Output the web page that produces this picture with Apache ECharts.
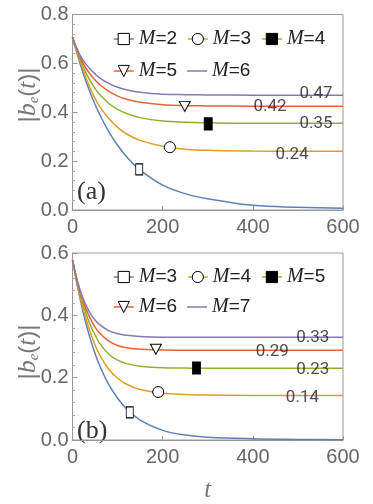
<!DOCTYPE html>
<html>
<head>
<meta charset="utf-8">
<script src="https://cdn.jsdelivr.net/npm/echarts@6/dist/echarts.min.js"></script>
<style>
  html, body { margin: 0; padding: 0; background: #fff; }
  #chart { width: 373px; height: 504px; }
</style>
</head>
<body>
<div id="chart"></div>
<script>
// time samples shared by every curve
var tVals = [0, 10, 20, 30, 40, 50, 60, 80, 100, 120, 150, 200, 250, 300, 400, 500, 600]

// panel (a): M = 2..6
var aM2 = [0.707, 0.641, 0.580, 0.526, 0.477, 0.432, 0.392, 0.322, 0.265, 0.218, 0.163, 0.102, 0.067, 0.046, 0.019, 0.011, 0.007]
var aM3 = [0.707, 0.646, 0.591, 0.541, 0.495, 0.456, 0.424, 0.375, 0.338, 0.311, 0.285, 0.261, 0.249, 0.244, 0.241, 0.240, 0.240]
var aM4 = [0.707, 0.651, 0.602, 0.561, 0.526, 0.497, 0.473, 0.437, 0.412, 0.395, 0.378, 0.364, 0.359, 0.357, 0.355, 0.355, 0.355]
var aM5 = [0.707, 0.656, 0.613, 0.580, 0.554, 0.532, 0.514, 0.486, 0.466, 0.453, 0.441, 0.431, 0.427, 0.426, 0.425, 0.425, 0.425]
var aM6 = [0.707, 0.660, 0.623, 0.597, 0.575, 0.557, 0.541, 0.518, 0.502, 0.492, 0.482, 0.474, 0.472, 0.471, 0.470, 0.470, 0.470]

// panel (b): M = 3..7
var bM3 = [0.577, 0.500, 0.432, 0.373, 0.322, 0.278, 0.240, 0.179, 0.134, 0.100, 0.064, 0.031, 0.016, 0.009, 0.004, 0.002, 0.001]
var bM4 = [0.577, 0.504, 0.441, 0.388, 0.343, 0.305, 0.274, 0.228, 0.198, 0.179, 0.162, 0.150, 0.146, 0.144, 0.143, 0.143, 0.143]
var bM5 = [0.577, 0.508, 0.452, 0.405, 0.367, 0.337, 0.311, 0.276, 0.256, 0.245, 0.237, 0.232, 0.231, 0.230, 0.230, 0.230, 0.230]
var bM6 = [0.577, 0.512, 0.460, 0.420, 0.388, 0.362, 0.343, 0.318, 0.303, 0.296, 0.291, 0.289, 0.288, 0.288, 0.288, 0.288, 0.288]
var bM7 = [0.577, 0.516, 0.468, 0.432, 0.405, 0.385, 0.370, 0.351, 0.341, 0.336, 0.332, 0.330, 0.330, 0.330, 0.330, 0.330, 0.330]

// single marker on each curve [t, value]
var aMarks = [[148, 0.166], [216, 0.257], [301, 0.352], [249, 0.424]]
var bMarks = [[127, 0.089], [190, 0.154], [275, 0.231], [185, 0.291]]

// plateau value labels [t, value, text]
var aLabels = [[540, 0.476, '0.47'], [438, 0.422, '0.42'], [540, 0.352, '0.35'], [487, 0.226, '0.24']]
var bLabels = [[533, 0.329, '0.33'], [443, 0.284, '0.29'], [533, 0.226, '0.23'], [510, 0.135, '0.14']]

var aNames = ['M=2', 'M=3', 'M=4', 'M=5', 'M=6']
var bNames = ['M=3', 'M=4', 'M=5', 'M=6', 'M=7']

var colors = ['#5e81b5', '#e19c24', '#8fb032', '#eb6235', '#8778b3']
var markSym = [
  { symbol: 'rect', size: [7, 11], fill: '#fff', rotate: 0 },
  { symbol: 'circle', size: 11, fill: '#fff', rotate: 0 },
  { symbol: 'rect', size: [8, 12], fill: '#000', rotate: 0 },
  { symbol: 'triangle', size: [11, 10], fill: '#fff', rotate: 180 },
  null
]

var chart = echarts.init(document.getElementById('chart'))

function pairs(ys) {
  return tVals.map(function (t, i) { return [t, ys[i]] })
}

function buildSeries(prefix, curves, names, marks, labels, gi) {
  var out = curves.map(function (ys, k) {
    var ms = markSym[k]
    var s = {
      name: prefix + names[k],
      type: 'line',
      xAxisIndex: gi,
      yAxisIndex: gi,
      data: pairs(ys),
      smooth: 0.4,
      showSymbol: false,
      symbol: ms ? ms.symbol : 'none',
      symbolRotate: ms ? ms.rotate : 0,
      color: colors[k],
      lineStyle: { width: 1.5, color: colors[k] },
      itemStyle: { color: colors[k] },
      z: 2
    }
    if (ms) {
      s.markPoint = {
        symbol: ms.symbol,
        symbolSize: ms.size,
        symbolRotate: ms.rotate,
        itemStyle: { color: ms.fill, borderColor: '#000', borderWidth: 1 },
        label: { show: false },
        silent: true,
        data: [{ coord: marks[k] }]
      }
    }
    return s
  })
  out.push({
    name: prefix + 'labels',
    type: 'scatter',
    xAxisIndex: gi,
    yAxisIndex: gi,
    symbolSize: 1,
    itemStyle: { color: 'transparent' },
    data: labels,
    z: 5,
    label: {
      show: true,
      position: 'inside',
      formatter: function (p) { return p.value[2] },
      color: '#222',
      fontSize: 17,
      fontFamily: 'Liberation Sans Narrow, Roboto, sans-serif'
    }
  })
  return out
}

function legendData(prefix, names, idx) {
  return idx.map(function (k) {
    var ms = markSym[k]
    if (ms) {
      return { name: prefix + names[k], itemStyle: { color: ms.fill, borderColor: '#000', borderWidth: 1 } }
    }
    return { name: prefix + names[k], icon: 'path://M0,0H20V1.5H0Z', itemStyle: { color: colors[k], borderWidth: 0 } }
  })
}

function legend(prefix, names, idx, left, top) {
  return {
    left: left,
    top: top,
    padding: 0,
    itemGap: 10,
    itemWidth: 20,
    itemHeight: 14,
    selectedMode: false,
    lineStyle: { width: 1.5 },
    data: legendData(prefix, names, idx),
    formatter: function (name) {
      var k = name.split(':')[1]
      return '{m|M}{n|' + k.slice(1) + '}'
    },
    textStyle: {
      rich: {
        m: { fontFamily: 'Liberation Serif', fontStyle: 'italic', fontSize: 20, color: '#222' },
        n: { fontFamily: 'Liberation Sans', fontSize: 19, color: '#222' }
      }
    }
  }
}

function xAx(gi, showName) {
  return {
    type: 'value',
    gridIndex: gi,
    min: 0,
    max: 600,
    interval: 200,
    name: showName ? 't' : '',
    nameLocation: 'middle',
    nameGap: 38,
    nameTextStyle: { fontFamily: 'Liberation Serif', fontStyle: 'italic', fontSize: 25, color: '#777' },
    axisLine: { show: true, lineStyle: { color: '#999' } },
    axisTick: { inside: true, length: 4, lineStyle: { color: '#999' } },
    axisLabel: { color: '#666', fontSize: 20, margin: 7, fontFamily: 'Liberation Sans' },
    splitLine: { show: false }
  }
}

function yAx(gi, max) {
  return {
    type: 'value',
    gridIndex: gi,
    min: 0,
    max: max,
    interval: 0.2,
    axisLine: { show: true, lineStyle: { color: '#999' } },
    axisTick: { inside: true, length: 5, lineStyle: { color: '#999' } },
    minorTick: { show: true, splitNumber: 5, length: 2.5, lineStyle: { color: '#aaa' } },
    axisLabel: {
      color: '#666',
      fontSize: 20,
      margin: 4,
      fontFamily: 'Liberation Sans',
      formatter: function (v) { return v.toFixed(1) }
    },
    splitLine: { show: false }
  }
}

function yTitle(y) {
  return {
    type: 'text',
    x: 28,
    y: y,
    rotation: Math.PI / 2,
    style: {
      text: '{p||}{b|b}{e|e}{p|(}{t|t}{p|)|}',
      align: 'center',
      verticalAlign: 'middle',
      fill: '#777',
      rich: {
        p: { fontFamily: 'Liberation Sans', fontSize: 24, color: '#777', lineHeight: 28 },
        b: { fontFamily: 'Liberation Serif', fontStyle: 'italic', fontSize: 26, color: '#777', lineHeight: 28 },
        e: { fontFamily: 'Liberation Serif', fontStyle: 'italic', fontSize: 15, color: '#777', lineHeight: 15, verticalAlign: 'bottom' },
        t: { fontFamily: 'Liberation Serif', fontStyle: 'italic', fontSize: 25, color: '#777', lineHeight: 28 }
      }
    }
  }
}

function panelTag(txt, y) {
  return {
    type: 'text',
    x: 77,
    y: y,
    style: {
      text: txt,
      fontFamily: 'Liberation Serif',
      fontSize: 26,
      fill: '#333',
      verticalAlign: 'middle'
    }
  }
}

var series = []
  .concat(buildSeries('a:', [aM2, aM3, aM4, aM5, aM6], aNames, aMarks, aLabels, 0))
  .concat(buildSeries('b:', [bM3, bM4, bM5, bM6, bM7], bNames, bMarks, bLabels, 1))

chart.setOption({
  animation: false,
  backgroundColor: '#fff',
  grid: [
    { left: 72.5, top: 14.5, width: 270.5, height: 195.5, show: true, borderColor: '#999', borderWidth: 1, backgroundColor: 'transparent' },
    { left: 72.5, top: 253, width: 270.5, height: 192, show: true, borderColor: '#999', borderWidth: 1, backgroundColor: 'transparent' }
  ],
  legend: [
    legend('a:', aNames, [0, 1, 2], 113, 29),
    legend('a:', aNames, [3, 4], 113, 61),
    legend('b:', bNames, [0, 1, 2], 113, 267),
    legend('b:', bNames, [3, 4], 113, 297)
  ],
  xAxis: [xAx(0, false), xAx(1, true)],
  yAxis: [yAx(0, 0.8), yAx(1, 0.6)],
  graphic: [yTitle(95), yTitle(352), panelTag('(a)', 192), panelTag('(b)', 431)],
  series: series
})
</script>
</body>
</html>
